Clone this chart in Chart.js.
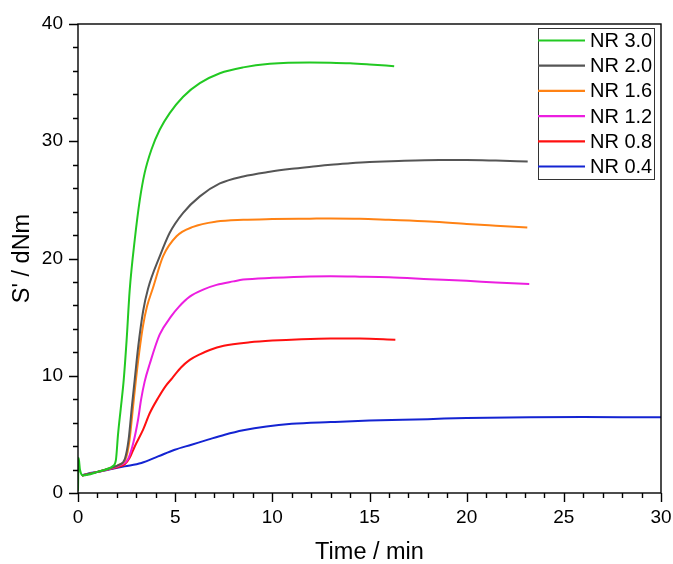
<!DOCTYPE html>
<html>
<head>
<meta charset="utf-8">
<script src="https://cdn.jsdelivr.net/npm/chart.js@4/dist/chart.umd.min.js"></script>
<style>
  body { margin: 0; background: #fff; }
  canvas { display: block; }
</style>
</head>
<body>
<canvas id="curaChart" width="673" height="564"></canvas>
<script>
// curvas de cura: [tempo em min, torque S' em dNm]
const nr30 = [[0, 0.2], [0.03, 3.0], [0.1, 2.0], [0.25, 1.5], [0.5, 1.55], [1, 1.8], [1.5, 2.05], [1.8, 2.3],
    [1.95, 2.8], [2.06, 5.0], [2.2, 7.2], [2.35, 9.6], [2.5, 13.0], [2.66, 17.3], [2.92, 21.6], [3.18, 25.0],
    [3.43, 27.3], [3.78, 29.3], [4.21, 31.0], [4.72, 32.4], [5.41, 33.8], [6.27, 34.95], [7.3, 35.8], [8.5, 36.3],
    [9.87, 36.6], [11.93, 36.72], [13, 36.7], [14, 36.65], [15, 36.55], [16.27, 36.4]];
const nr20 = [[0.2, 1.5], [1, 1.8], [1.8, 2.2], [2.1, 2.4], [2.41, 2.9], [2.6, 4.5], [2.78, 7.5], [2.92, 9.7],
    [3.1, 12.5], [3.35, 15.5], [3.6, 17.4], [4.21, 20.2], [4.72, 22.2], [5.41, 23.9], [6.27, 25.3], [7.3, 26.4],
    [8.5, 27.0], [9.87, 27.4], [11, 27.65], [12, 27.83], [13, 28.0], [14, 28.12], [15, 28.22], [16.5, 28.32],
    [18.6, 28.4], [20, 28.4], [21.5, 28.35], [23.14, 28.27]];
const nr16 = [[0.2, 1.5], [1, 1.8], [1.8, 2.2], [2.1, 2.4], [2.45, 2.9], [2.65, 4.5], [2.83, 7.3], [2.97, 9.5],
    [3.15, 12.0], [3.35, 14.3], [3.55, 15.9], [3.86, 17.5], [4.38, 20.2], [5.07, 21.9], [5.92, 22.7], [7.13, 23.15],
    [8.5, 23.3], [10, 23.36], [11.93, 23.4], [13, 23.42], [14.5, 23.4], [16, 23.3], [18.1, 23.15], [20, 22.95],
    [21.5, 22.8], [23.12, 22.64]];
const nr12 = [[0.2, 1.5], [1, 1.8], [1.8, 2.15], [2.2, 2.4], [2.58, 2.9], [2.85, 4.3], [3.09, 6.25], [3.25, 8.0],
    [3.43, 9.5], [3.69, 11.0], [4.2, 13.5], [4.81, 15.1], [5.2, 15.9], [5.75, 16.75], [6.44, 17.35], [7.13, 17.75],
    [8, 18.05], [8.5, 18.2], [10, 18.35], [11.93, 18.47], [13, 18.48], [14.5, 18.45], [16, 18.4], [18.1, 18.24],
    [20, 18.1], [21.5, 17.95], [23.22, 17.82]];
const nr08 = [[0.2, 1.5], [1, 1.8], [1.8, 2.1], [2.2, 2.3], [2.41, 2.45], [2.66, 3.0], [2.92, 3.97], [3.35, 5.4],
    [3.69, 6.8], [4.12, 8.1], [4.5, 9.1], [4.85, 9.8], [5.3, 10.7], [5.75, 11.35], [6.3, 11.85], [6.78, 12.2],
    [7.5, 12.55], [8.84, 12.85], [10, 13.0], [11.5, 13.12], [13, 13.18], [14.5, 13.17], [16.33, 13.07]];
const nr04 = [[0.2, 1.5], [0.5, 1.65], [1, 1.8], [1.54, 1.99], [2.4, 2.27], [3.26, 2.56], [4.12, 3.12], [4.98, 3.69],
    [5.84, 4.12], [6.69, 4.55], [7.55, 4.97], [8.5, 5.35], [9.7, 5.68], [11, 5.9], [13, 6.05], [15, 6.18],
    [18, 6.3], [20, 6.4], [23.26, 6.47], [26, 6.48], [28, 6.47], [30, 6.45]];

const nomes = ["NR 3.0", "NR 2.0", "NR 1.6", "NR 1.2", "NR 0.8", "NR 0.4"];
const series = [nr30, nr20, nr16, nr12, nr08, nr04];
const cores = ["#22c922", "#555555", "#ff8214", "#ec1ee0", "#ff1010", "#1424d2"];

const fonte = "Arial, 'Liberation Sans', sans-serif";

// moldura do gráfico e marcas de escala para fora (maiores e menores)
const molduraPlugin = {
    id: "moldura",
    afterDatasetsDraw(chart) {
        const { ctx, chartArea: a, scales: { x, y } } = chart;
        ctx.save();
        ctx.strokeStyle = "#000";
        ctx.lineWidth = 1.4;
        ctx.strokeRect(a.left, a.top, a.right - a.left, a.bottom - a.top);

        ctx.beginPath();
        for (let t = 0; t <= 30; t++) {
            const px = Math.round(x.getPixelForValue(t)) + 0.5;
            const len = t % 5 === 0 ? 9 : 5;
            ctx.moveTo(px, a.bottom);
            ctx.lineTo(px, a.bottom + len);
        }
        for (let v = 0; v <= 40; v += 2) {
            const py = Math.round(y.getPixelForValue(v)) + 0.5;
            const len = v % 10 === 0 ? 9 : 5;
            ctx.moveTo(a.left, py);
            ctx.lineTo(a.left - len, py);
        }
        ctx.stroke();
        ctx.restore();
    }
};

// legenda em caixa no canto superior direito
const legendaPlugin = {
    id: "legendaCaixa",
    afterDraw(chart) {
        const ctx = chart.ctx;
        const x0 = 538, y0 = 28, w = 116, h = 151, passo = 25.2;
        ctx.save();
        ctx.fillStyle = "#fff";
        ctx.fillRect(x0, y0, w, h);
        ctx.strokeStyle = "#333";
        ctx.lineWidth = 1;
        ctx.strokeRect(x0 + 0.5, y0 + 0.5, w, h);
        ctx.font = "20px " + fonte;
        ctx.textBaseline = "middle";
        chart.data.datasets.forEach((ds, i) => {
            const cy = y0 + 12.5 + i * passo;
            ctx.strokeStyle = ds.borderColor;
            ctx.lineWidth = 2.2;
            ctx.beginPath();
            ctx.moveTo(x0, cy);
            ctx.lineTo(x0 + 47, cy);
            ctx.stroke();
            ctx.fillStyle = "#000";
            ctx.fillText(ds.label, x0 + 52, cy + 1);
        });
        ctx.restore();
    }
};

const datasets = series.map((s, i) => ({
    label: nomes[i],
    data: s.map(p => ({ x: p[0], y: p[1] })),
    borderColor: cores[i],
    backgroundColor: cores[i],
    borderWidth: 2,
    pointRadius: 0,
    cubicInterpolationMode: "monotone",
    fill: false
}));

new Chart(document.getElementById("curaChart"), {
    type: "line",
    data: { datasets: datasets },
    options: {
        responsive: false,
        animation: false,
        layout: { padding: { top: 24, right: 12, left: 0, bottom: 0 } },
        plugins: {
            legend: { display: false },
            tooltip: { enabled: false }
        },
        scales: {
            x: {
                type: "linear",
                min: 0,
                max: 30,
                grid: { display: false, drawTicks: false },
                border: { display: false },
                ticks: { stepSize: 5, padding: 13, color: "#000", font: { family: fonte, size: 19 } },
                title: { display: true, text: "Time / min", color: "#000", font: { family: fonte, size: 23.5 }, padding: { top: 0, bottom: -3 } },
                afterFit(scale) {
                    scale.height = 71;
                    scale.paddingLeft = 0;
                    scale.paddingRight = 0;
                }
            },
            y: {
                min: 0,
                max: 40,
                grid: { display: false, drawTicks: false },
                border: { display: false },
                ticks: { stepSize: 10, padding: 15, color: "#000", font: { family: fonte, size: 19 } },
                title: { display: true, text: "S' / dNm", color: "#000", font: { family: fonte, size: 23.5 }, padding: { top: 8, bottom: 0 } },
                afterFit(scale) {
                    scale.width = 78;
                    scale.paddingTop = 0;
                    scale.paddingBottom = 0;
                }
            }
        }
    },
    plugins: [molduraPlugin, legendaPlugin]
});
</script>
</body>
</html>
